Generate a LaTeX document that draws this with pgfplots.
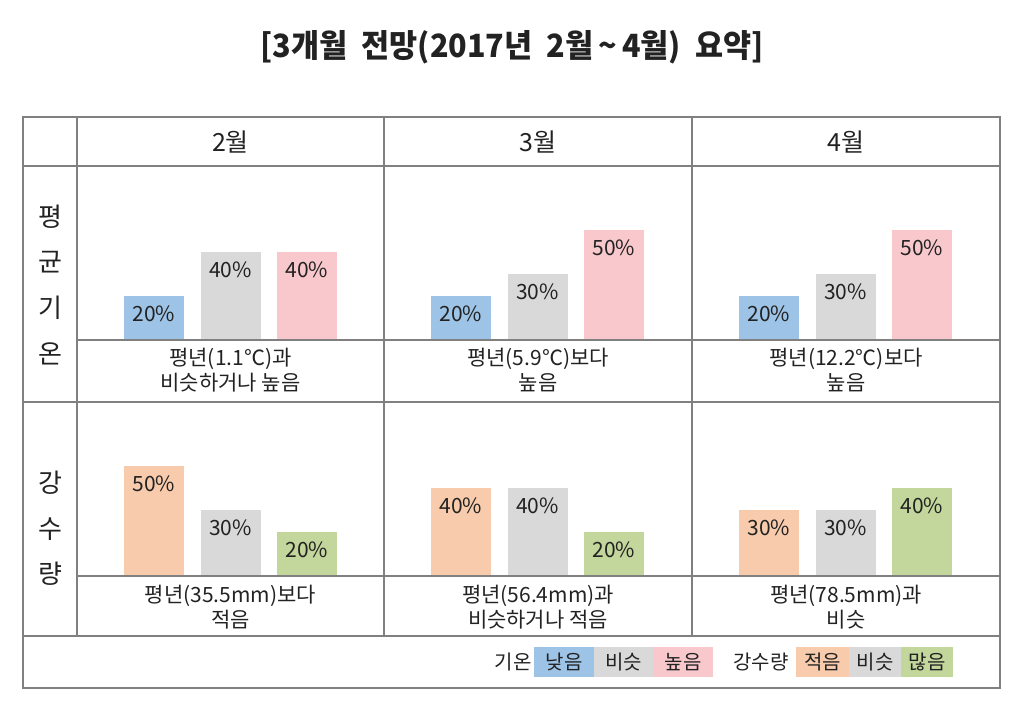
\documentclass[border=0pt]{standalone}
\usepackage{fontspec}
\setmainfont{Noto Sans CJK KR}
\usepackage{pgfplots}
\pgfplotsset{compat=1.18}

\definecolor{cblue}{HTML}{9DC3E6}
\definecolor{cgray}{HTML}{D9D9D9}
\definecolor{cpink}{HTML}{F8C8CC}
\definecolor{corange}{HTML}{F8CBAD}
\definecolor{cgreen}{HTML}{C3D69B}
\definecolor{rule}{HTML}{808080}
\definecolor{txt}{HTML}{222222}

\pgfplotsset{
  panel/.style={
    ybar, bar shift=0pt, bar width=30pt,
    scale only axis, axis lines=none, clip=false,
    width=114.75pt, height=66pt,
    xmin=0.5, xmax=3.5, ymin=0, ymax=60,
    anchor=south west,
    /pgf/number format/assume math mode=true,
    nodes near coords={\pgfmathprintnumber{\pgfplotspointmeta}\%},
    every node near coord/.append style={anchor=north, yshift=-1.5pt,
      font=\fontsize{10.5}{12}\selectfont, text=txt},
  },
}

\begin{document}
\begin{tikzpicture}[x=0.5pt, y=0.5pt]
\path[use as bounding box] (0,0) rectangle (1024,712);

% panel corners (x of xmin, y of the bars' base)
\coordinate (t1) at (115.75,372);
\coordinate (t2) at (422.75,372);
\coordinate (t3) at (730.75,372);
\coordinate (b1) at (115.75,136);
\coordinate (b2) at (422.75,136);
\coordinate (b3) at (730.75,136);

% title
\node[text=txt, font=\fontsize{16}{20}\bfseries\selectfont] at (512,665)
  {\scalebox{0.955}[1]{[3개월\ \ 전망(2017년\ \ 2월\,\textasciitilde\,4월)\ \ 요약]}};

% table frame
\begin{scope}[draw=rule, line width=0.75pt]
\draw (23,24) rectangle (1000,595);
\draw (23,546) -- (1000,546);
\draw (23,310) -- (1000,310);
\draw (23,76) -- (1000,76);
\draw (77,595) -- (77,76);
\draw (384,595) -- (384,76);
\draw (692,595) -- (692,76);
\end{scope}

% headers
\begin{scope}[text=txt, font=\fontsize{12.5}{15}\selectfont]
\node at (230.5,570) {2월};
\node at (538,570) {3월};
\node at (846,570) {4월};
\end{scope}
\begin{scope}[text=txt, font=\fontsize{13}{15}\selectfont]
\node at (50,495) {평};
\node at (50,450) {균};
\node at (50,404) {기};
\node at (50,358) {온};
\node at (50,229) {강};
\node at (50,183) {수};
\node at (50,138) {량};
\end{scope}

% temperature
\begin{axis}[panel, at={(t1)}]
\addplot[fill=cblue, draw=none] coordinates {(1,20)};
\addplot[fill=cgray, draw=none] coordinates {(2,40)};
\addplot[fill=cpink, draw=none] coordinates {(3,40)};
\end{axis}
\begin{axis}[panel, at={(t2)}]
\addplot[fill=cblue, draw=none] coordinates {(1,20)};
\addplot[fill=cgray, draw=none] coordinates {(2,30)};
\addplot[fill=cpink, draw=none] coordinates {(3,50)};
\end{axis}
\begin{axis}[panel, at={(t3)}]
\addplot[fill=cblue, draw=none] coordinates {(1,20)};
\addplot[fill=cgray, draw=none] coordinates {(2,30)};
\addplot[fill=cpink, draw=none] coordinates {(3,50)};
\end{axis}

% precipitation
\begin{axis}[panel, at={(b1)}]
\addplot[fill=corange, draw=none] coordinates {(1,50)};
\addplot[fill=cgray, draw=none] coordinates {(2,30)};
\addplot[fill=cgreen, draw=none] coordinates {(3,20)};
\end{axis}
\begin{axis}[panel, at={(b2)}]
\addplot[fill=corange, draw=none] coordinates {(1,40)};
\addplot[fill=cgray, draw=none] coordinates {(2,40)};
\addplot[fill=cgreen, draw=none] coordinates {(3,20)};
\end{axis}
\begin{axis}[panel, at={(b3)}]
\addplot[fill=corange, draw=none] coordinates {(1,30)};
\addplot[fill=cgray, draw=none] coordinates {(2,30)};
\addplot[fill=cgreen, draw=none] coordinates {(3,40)};
\end{axis}

% bar baselines
\draw[rule, line width=0.75pt] (77,372) -- (1000,372);
\draw[rule, line width=0.75pt] (77,136) -- (1000,136);

% notes
\begin{scope}[text=txt, font=\fontsize{10.5}{12.5}\selectfont, align=center]
\node at (230.5,341.5) {평년(1.1℃)과\\비슷하거나 높음};
\node at (538,341.5) {평년(5.9℃)보다\\높음};
\node at (846,341.5) {평년(12.2℃)보다\\높음};
\node at (230.5,104.5) {평년(35.5mm)보다\\적음};
\node at (538,104.5) {평년(56.4mm)과\\비슷하거나 적음};
\node at (846,104.5) {평년(78.5mm)과\\비슷};
\end{scope}

% key
\begin{scope}[font=\fontsize{10}{12}\selectfont]
\node[text=txt] at (513,50) {기온};
\node[fill=cblue, minimum width=30pt, minimum height=15pt, inner sep=0pt, text=txt] at (564,50) {낮음};
\node[fill=cgray, minimum width=29.5pt, minimum height=15pt, inner sep=0pt, text=txt] at (623.5,50) {비슷};
\node[fill=cpink, minimum width=30pt, minimum height=15pt, inner sep=0pt, text=txt] at (683,50) {높음};
\node[text=txt] at (761,50) {강수량};
\node[fill=corange, minimum width=26.5pt, minimum height=15pt, inner sep=0pt, text=txt] at (822.5,50) {적음};
\node[fill=cgray, minimum width=26pt, minimum height=15pt, inner sep=0pt, text=txt] at (875,50) {비슷};
\node[fill=cgreen, minimum width=26pt, minimum height=15pt, inner sep=0pt, text=txt] at (927,50) {많음};
\end{scope}
\end{tikzpicture}
\end{document}
